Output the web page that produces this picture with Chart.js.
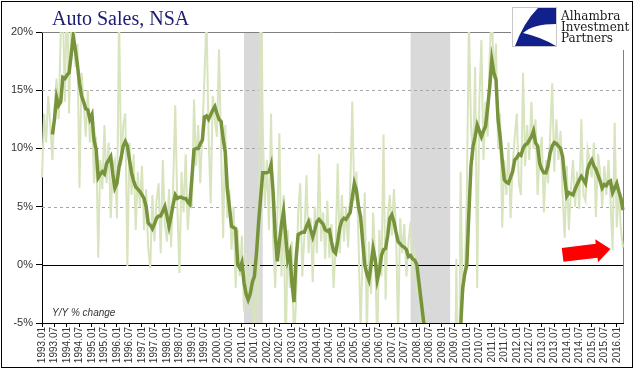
<!DOCTYPE html>
<html>
<head>
<meta charset="utf-8">
<script src="https://cdn.jsdelivr.net/npm/chart.js@4.4.1/dist/chart.umd.min.js"></script>
<style>
  html, body { margin: 0; padding: 0; background: #fff; }
  canvas { display: block; }
</style>
</head>
<body>
<canvas id="chart" width="641" height="375"></canvas>
<script>
// monthly categories 1993.01 .. 2016.04
const months = [];
for (let y = 1993; y <= 2016; y++) {
    for (let m = 1; m <= 12; m++) {
        if (months.length < 280) months.push(`${y}.${String(m).padStart(2, '0')}`);
    }
}

// Y/Y % change, monthly (light line), one row per year
const yoy = [
    7.5, 13.0, 10.5, 14.5, 12.0, 9.0, 13.5, 16.0, 12.5, 20.0, 22.0, 14.0,
    24.0, 13.0, 21.0, 25.0, 17.0, 19.0, 6.6, 16.5, 14.0, 11.0, 15.0, 10.5,
    13.0, 7.0, 11.0, 0.6, 9.0, 6.5, 12.0, 7.0, 10.5, 4.0, 8.5, 9.0,
    4.0, 21.5, 8.5, 12.0, 13.0, -0.1, 10.5, 6.0, 9.5, 3.0, 8.0, 5.0,
    8.5, 3.0, 6.5, 1.5, -0.3, 6.0, 2.0, 5.5, 7.0, 1.0, 9.0, 3.5,
    2.0, 6.5, 1.5, 7.0, 13.7, 5.0, -0.7, 8.0, 4.5, 9.5, 3.0, 6.0,
    5.0, 14.2, 8.5, 12.0, 7.0, 11.5, 16.0, 21.5, 11.0, 5.3, 14.5, 12.5,
    11.0, 18.5, 10.0, 2.3, 12.0, 4.0, 6.5, 1.3, 5.0, -2.0, 3.0, -1.0,
    2.5, -4.0, 1.0, -3.5, 0.5, -2.0, -7.0, 2.0, -6.0, 28.0, 12.0, 5.0,
    9.0, 3.0, 13.0, 2.0, -2.0, 4.0, 11.3, -1.0, 6.0, -8.0, 3.0, -2.0,
    2.0, -7.0, -3.0, 4.5, 7.0, -1.0, 2.5, 7.7, 1.0, 4.0, -1.5, 5.0,
    1.0, 9.5, 2.0, 4.5, 0.5, 5.5, 0.6, 3.5, -2.0, 1.5, 8.7, 1.0,
    6.0, 2.0, 5.0, 1.5, 6.5, 14.0, 5.5, 8.0, 2.0, -5.5, 1.0, 6.2,
    -6.0, 2.0, -2.5, 4.5, 0.5, -7.0, 3.0, -1.0, 11.2, -3.0, 4.0, 6.0,
    2.5, 6.5, 3.0, -6.0, 4.0, 1.0, 3.5, -1.0, 2.0, 3.7, -1.5, 1.5,
    -2.0, -1.0, -8.0, -3.5, -10.0, -12.0, -15.0, -18.0, -25.0, -30.0, -35.0, -36.0,
    -37.0, -40.0, -36.0, -33.0, -30.0, -28.0, -15.0, 0.5, -20.0, 8.0, -3.0, -1.0,
    6.0, 21.0, 12.0, 9.0, 17.0, -2.0, 14.0, 19.3, 9.0, 14.0, 11.0, 18.0,
    22.0, 16.0, 19.0, 10.0, 13.0, 3.2, 9.0, 6.0, 10.5, 4.0, 8.5, 11.0,
    13.0, 7.0, 6.0, 16.5, 8.5, 12.0, 9.0, 14.0, 10.0, 12.5, 6.0, 9.5,
    11.0, 4.5, 9.0, 7.0, 11.0, 15.6, 8.0, 12.5, 9.0, 11.5, 6.0, 2.3,
    8.5, 3.0, 6.5, 9.0, 5.0, 8.0, 4.8, 12.5, 6.0, 5.5, 10.0, 9.0,
    7.5, 10.5, 4.1, 9.5, 8.0, 5.0, 8.5, 6.0, 9.0, 5.5, 1.3, 12.2,
    3.2, 6.5, 3.0, 1.5
];

// smoothed Y/Y (dark line)
const smooth = [
    null, null, null, null, null, 11.2, 12.5, 14.4, 13.7, 14.0, 16.1, 16.0,
    16.3, 16.5, 18.0, 19.6, 18.5, 17.2, 15.6, 14.5, 14.0, 13.4, 13.3, 12.5,
    12.9, 10.7, 9.9, 7.5, 7.8, 8.0, 7.8, 8.7, 9.0, 9.3, 7.8, 6.6,
    7.0, 8.4, 9.2, 10.2, 10.6, 10.2, 9.0, 7.9, 7.2, 6.7, 6.5, 6.3,
    6.0, 5.7, 5.0, 3.6, 3.4, 3.1, 3.5, 4.0, 4.2, 4.2, 4.6, 5.0,
    4.2, 3.3, 4.2, 5.2, 6.0, 5.7, 5.8, 5.8, 5.7, 5.7, 5.4, 5.2,
    7.5, 9.9, 10.0, 10.0, 10.4, 10.7, 12.7, 12.8, 12.5, 12.9, 13.3, 13.6,
    13.0, 12.5, 12.3, 10.8, 9.7, 6.5, 5.0, 3.3, 3.2, 3.1, 0.0, -0.3,
    0.2, -1.5, -2.5, -3.0, -2.5, -1.5, -1.0, 1.0, 3.6, 5.8, 7.9, 7.9,
    7.9, 8.0, 8.6, 6.2, 2.5, 0.3, 2.0, 3.5, 4.6, 2.5, 0.4, 1.0,
    -1.5, -3.2, 0.5, 2.6, 2.7, 2.8, 2.8, 3.3, 3.7, 3.0, 2.4, 3.0,
    3.7, 3.9, 3.7, 3.5, 3.0, 2.9, 3.0, 2.0, 1.2, 1.0, 2.0, 3.2,
    3.8, 4.0, 3.9, 4.2, 4.5, 5.8, 7.0, 6.4, 5.0, 4.1, 2.0, 0.0,
    -0.8, -1.3, 0.0, 1.4, 0.5, -1.3, -0.5, 0.8, 1.3, 1.4, 2.5, 4.0,
    4.3, 3.7, 2.8, 2.0, 1.8, 1.6, 1.5, 1.3, 0.7, 0.8, 0.5, 0.4,
    0.0, -1.5, -3.0, -4.5, -6.0, -9.0, -12.0, -16.0, -20.0, -25.0, -30.0, -33.0,
    -35.0, -37.0, -36.0, -34.0, -30.0, -26.0, -20.0, -14.0, -9.0, -5.5, -2.0, -0.8,
    0.0, 4.5, 8.5, 10.2, 11.0, 12.0, 11.5, 11.0, 11.5, 11.9, 13.5, 15.3,
    17.6, 16.5, 15.9, 12.5, 11.0, 9.0, 7.3, 7.1, 7.0, 7.5, 8.0, 9.0,
    9.2, 9.5, 9.4, 10.0, 10.3, 10.4, 10.7, 11.0, 11.5, 10.5, 10.2, 8.7,
    8.2, 7.9, 7.9, 8.5, 9.6, 10.2, 10.5, 10.4, 10.2, 10.0, 9.3, 7.5,
    5.9, 6.2, 6.1, 6.0, 6.5, 6.9, 7.3, 7.6, 7.3, 7.0, 8.2, 8.7,
    9.0, 8.5, 8.2, 7.7, 7.2, 6.6, 6.9, 6.8, 7.1, 7.2, 6.2, 6.6,
    7.0, 6.3, 5.7, 4.7
];

// y axis ticks
const yTicks = [-5, 0, 5, 10, 15, 20];

// recession shading (first / last month)
const recessionFrom = ['2001.02', '2007.10'];
const recessionTo = ['2001.11', '2009.05'];

// red arrow, tail and tip as [month, value]
const arrowTail = ['2013.11', 0.85];
const arrowTip = ['2015.10', 1.35];

const decorations = {
    id: 'decorations',
    beforeDraw(chart) {
        const ctx = chart.ctx;
        ctx.save();
        ctx.fillStyle = '#fff';
        ctx.fillRect(0, 0, chart.width, chart.height);
        ctx.restore();
    },
    beforeDatasetsDraw(chart) {
        const { ctx, chartArea: a, scales: { x, y } } = chart;
        ctx.save();
        // recessions
        ctx.fillStyle = '#d9d9d9';
        recessionFrom.forEach((from, i) => {
            const x0 = x.getPixelForValue(months.indexOf(from));
            const x1 = x.getPixelForValue(months.indexOf(recessionTo[i]));
            ctx.fillRect(x0, a.top, x1 - x0, a.bottom - a.top);
        });
        // dashed grid
        ctx.strokeStyle = '#a6a6a6';
        ctx.lineWidth = 1;
        ctx.setLineDash([3, 3]);
        [5, 10, 15].forEach(v => {
            const py = Math.round(y.getPixelForValue(v)) + 0.5;
            ctx.beginPath();
            ctx.moveTo(a.left, py);
            ctx.lineTo(a.right, py);
            ctx.stroke();
        });
        ctx.setLineDash([]);
        // top and right border
        ctx.strokeStyle = '#808080';
        const top = Math.round(y.getPixelForValue(20)) + 0.5;
        ctx.beginPath();
        ctx.moveTo(a.left, top);
        ctx.lineTo(Math.round(a.right) + 0.5, top);
        ctx.lineTo(Math.round(a.right) + 0.5, a.bottom);
        ctx.stroke();
        // zero line
        ctx.strokeStyle = '#000';
        const zero = Math.round(y.getPixelForValue(0)) + 0.5;
        ctx.beginPath();
        ctx.moveTo(a.left, zero);
        ctx.lineTo(a.right, zero);
        ctx.stroke();
        ctx.restore();
    },
    afterDraw(chart) {
        const { ctx, chartArea: a, scales: { x, y } } = chart;
        ctx.save();

        // title
        ctx.fillStyle = '#1c1c72';
        ctx.font = '20px "Liberation Serif", serif';
        ctx.textBaseline = 'alphabetic';
        ctx.fillText('Auto Sales, NSA', 52, 25);

        // axis note
        ctx.fillStyle = '#333';
        ctx.font = 'italic 10px "Liberation Sans", sans-serif';
        ctx.fillText('Y/Y % change', a.left + 10, a.bottom - 7);

        // red arrow
        const x1 = x.getPixelForValue(months.indexOf(arrowTail[0]));
        const y1 = y.getPixelForValue(arrowTail[1]);
        const x2 = x.getPixelForValue(months.indexOf(arrowTip[0]));
        const y2 = y.getPixelForValue(arrowTip[1]);
        const len = Math.hypot(x2 - x1, y2 - y1);
        const dx = (x2 - x1) / len, dy = (y2 - y1) / len;
        const nx = -dy, ny = dx;
        const hx = x2 - dx * 14, hy = y2 - dy * 14;
        ctx.fillStyle = '#ff0000';
        ctx.beginPath();
        ctx.moveTo(x1 + nx * 7, y1 + ny * 7);
        ctx.lineTo(hx + nx * 7, hy + ny * 7);
        ctx.lineTo(hx + nx * 11.5, hy + ny * 11.5);
        ctx.lineTo(x2, y2);
        ctx.lineTo(hx - nx * 11.5, hy - ny * 11.5);
        ctx.lineTo(hx - nx * 7, hy - ny * 7);
        ctx.lineTo(x1 - nx * 7, y1 - ny * 7);
        ctx.closePath();
        ctx.fill();

        // logo
        ctx.fillStyle = '#fff';
        ctx.fillRect(511, 2, 122, 48);
        ctx.strokeStyle = '#c8c8c8';
        ctx.lineWidth = 1;
        ctx.strokeRect(512.5, 7.5, 44, 39);
        ctx.fillStyle = '#12208c';
        ctx.beginPath();
        ctx.moveTo(538, 8);
        ctx.lineTo(556, 8);
        ctx.lineTo(556, 24);
        ctx.quadraticCurveTo(533, 24, 523, 33);
        ctx.quadraticCurveTo(541, 37, 556, 46);
        ctx.lineTo(515, 46);
        ctx.quadraticCurveTo(524, 22, 538, 8);
        ctx.closePath();
        ctx.fill();
        ctx.fillStyle = '#1a1a1a';
        ctx.font = '12px "DejaVu Serif", serif';
        ctx.fillText('Alhambra', 561, 20);
        ctx.fillText('Investment', 561, 31);
        ctx.fillText('Partners', 561, 42);

        // outer frame
        ctx.strokeStyle = '#000';
        ctx.strokeRect(1.5, 1.5, 631, 366);
        ctx.restore();
    }
};

new Chart(document.getElementById('chart'), {
    type: 'line',
    data: {
        labels: months,
        datasets: [{
            label: 'Y/Y',
            data: yoy,
            borderColor: '#d7e4bd',
            borderWidth: 2,
            pointRadius: 0,
            tension: 0,
            order: 2
        }, {
            label: 'Smoothed',
            data: smooth,
            borderColor: '#77933c',
            borderWidth: 3.5,
            pointRadius: 0,
            tension: 0,
            spanGaps: false,
            order: 1
        }]
    },
    options: {
        responsive: false,
        animation: false,
        devicePixelRatio: 1,
        layout: { padding: { top: 32, right: 18, left: 0, bottom: 0 } },
        plugins: {
            legend: { display: false },
            tooltip: { enabled: false }
        },
        scales: {
            x: {
                afterFit(scale) { scale.height = 52; },
                grid: { drawOnChartArea: false, drawTicks: true, tickLength: 4, tickColor: '#000' },
                border: { color: '#000' },
                ticks: {
                    autoSkip: false,
                    maxRotation: 90,
                    minRotation: 90,
                    padding: 0,
                    color: '#333',
                    font: { family: '"Liberation Sans", sans-serif', size: 10 },
                    callback: (v, i) => (i % 6 === 0 ? months[i] : null)
                }
            },
            y: {
                min: yTicks[0],
                max: yTicks[yTicks.length - 1],
                afterFit(scale) { scale.width = 42; },
                afterBuildTicks(scale) { scale.ticks = yTicks.map(v => ({ value: v })); },
                grid: { drawOnChartArea: false, drawTicks: true, tickLength: 6, tickColor: '#000' },
                border: { color: '#000' },
                ticks: {
                    padding: 3,
                    color: '#333',
                    font: { family: '"Liberation Sans", sans-serif', size: 11 },
                    callback: v => v + '%'
                }
            }
        }
    },
    plugins: [decorations]
});
</script>
</body>
</html>
